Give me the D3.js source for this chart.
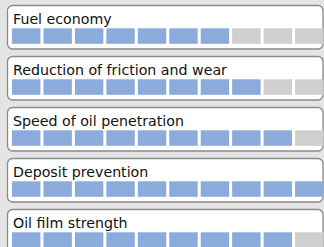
<!DOCTYPE html>
<html>
<head>
<meta charset="utf-8">
<script src="https://cdn.jsdelivr.net/npm/d3@7"></script>
<style>
  html, body { margin: 0; padding: 0; background: #e4e4e4; }
  svg { display: block; }
</style>
</head>
<body>
<svg width="324" height="247"></svg>
<script>
// ratings out of 10 segments
var categories = ["Fuel economy", "Reduction of friction and wear", "Speed of oil penetration", "Deposit prevention", "Oil film strength"];
var scores = [7, 8, 9, 10, 9];
var segments = d3.range(10);

var svg = d3.select("svg");
var width = +svg.attr("width");
var height = +svg.attr("height");

var y = d3.scaleBand()
    .domain(categories)
    .range([5, 253])
    .paddingInner(7 / 51);

var x = d3.scaleBand()
    .domain(segments)
    .range([12, 323.5])
    .paddingInner(0.096);

var row = svg.append("g")
    .selectAll("g")
    .data(categories)
    .enter().append("g")
    .attr("transform", function (d) {
        return "translate(0," + y(d) + ")";
    });

row.append("rect")
    .attr("x", 7.5)
    .attr("y", 0.5)
    .attr("width", 315.5)
    .attr("height", y.bandwidth() - 0.5)
    .attr("rx", 5)
    .style("fill", "#fff")
    .style("stroke", "#8a8a8a")
    .style("stroke-width", "1.3px");

row.append("text")
    .attr("x", 13)
    .attr("y", 18.5)
    .text(function (d) { return d; })
    .style("font-family", "'DejaVu Sans', sans-serif")
    .style("font-size", "14.2px")
    .style("fill", "#111");

row.each(function (d, i) {
    d3.select(this).selectAll("rect.seg")
        .data(segments)
        .enter().append("rect")
        .attr("class", "seg")
        .attr("x", function (s) { return x(s); })
        .attr("y", 23.3)
        .attr("width", x.bandwidth())
        .attr("height", 15.5)
        .style("fill", function (s) {
            return s < scores[i] ? "#8aabdb" : "#cfcfcf";
        });
});
</script>
</body>
</html>
